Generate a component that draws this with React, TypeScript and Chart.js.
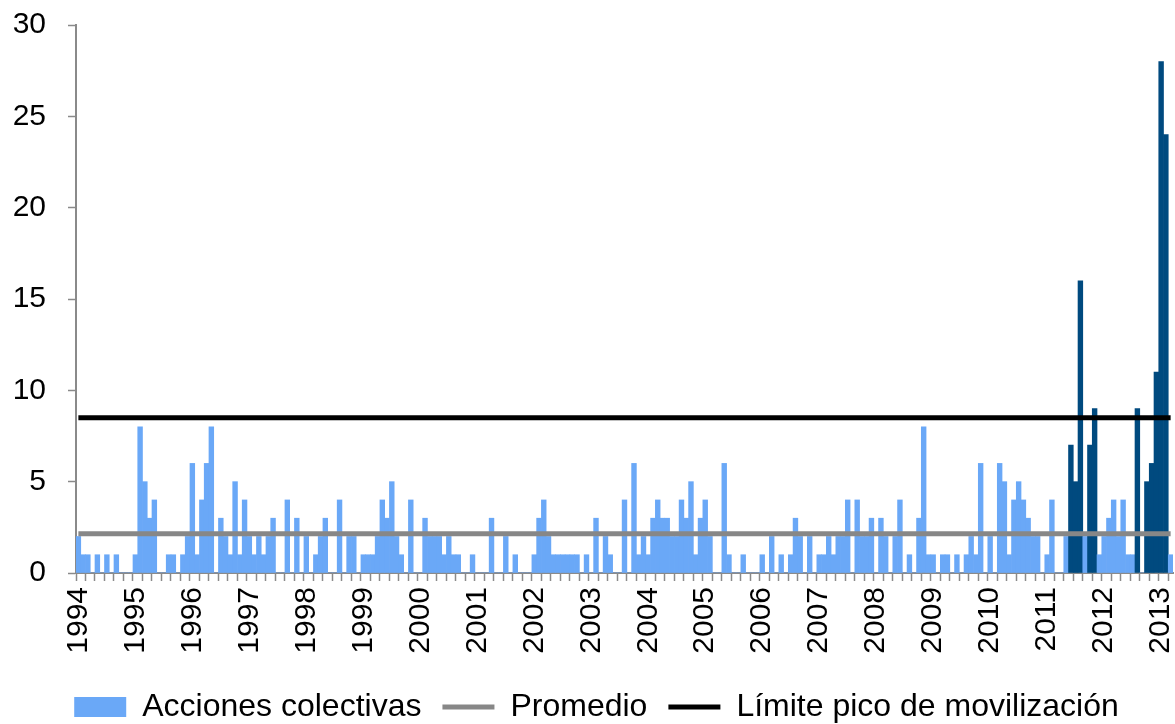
import React, { useEffect, useRef } from 'react';
import { Chart, registerables } from 'chart.js';

Chart.register(...registerables);

// ---- data ----
const anios = ['1994', '1995', '1996', '1997', '1998', '1999', '2000', '2001', '2002', '2003',
  '2004', '2005', '2006', '2007', '2008', '2009', '2010', '2011', '2012', '2013'];
const mesesPorAnio = [12, 12, 12, 12, 12, 12, 12, 12, 12, 12, 12, 12, 12, 12, 12, 12, 12, 12, 12, 3];

const acciones = [
  2, 1, 1, 0, 1, 0, 1, 0, 1, 0, 0, 0, // 1994
  1, 8, 5, 3, 4, 0, 0, 1, 1, 0, 1, 2, // 1995
  6, 1, 4, 6, 8, 0, 3, 2, 1, 5, 1, 4, // 1996
  2, 1, 2, 1, 2, 3, 0, 0, 4, 0, 3, 0, // 1997
  2, 0, 1, 2, 3, 0, 0, 4, 0, 2, 2, 0, // 1998
  1, 1, 1, 2, 4, 3, 5, 2, 1, 0, 4, 0, // 1999
  0, 3, 2, 2, 2, 1, 2, 1, 1, 0, 0, 1, // 2000
  0, 0, 0, 3, 0, 0, 2, 0, 1, 0, 0, 0, // 2001
  1, 3, 4, 2, 1, 1, 1, 1, 1, 1, 0, 1, // 2002
  0, 3, 0, 2, 1, 0, 0, 4, 0, 6, 1, 2, // 2003
  1, 3, 4, 3, 3, 2, 2, 4, 3, 5, 1, 3, // 2004
  4, 2, 0, 0, 6, 1, 0, 0, 1, 0, 0, 0, // 2005
  1, 0, 2, 0, 1, 0, 1, 3, 2, 0, 2, 0, // 2006
  1, 1, 2, 1, 2, 2, 4, 0, 4, 2, 2, 3, // 2007
  0, 3, 2, 0, 2, 4, 0, 1, 0, 3, 8, 1, // 2008
  1, 0, 1, 1, 0, 1, 0, 1, 2, 1, 6, 0, // 2009
  2, 0, 6, 5, 1, 4, 5, 4, 3, 2, 2, 0, // 2010
  1, 4, 0, 0, 2, 7, 5, 16, 2, 7, 9, 1, // 2011
  2, 3, 4, 2, 4, 1, 1, 9, 0, 5, 6, 11, // 2012
  28, 24, 1, // 2013
];

const picos = ['2011-06', '2011-07', '2011-08', '2011-10', '2011-11',
  '2012-08', '2012-10', '2012-11', '2012-12', '2013-01', '2013-02'];

const promedio = 2.15;
const limitePico = 8.5;

const nombresSeries = ['Acciones colectivas', 'Promedio', 'Límite pico de movilización'];

const yMin = 0;
const yMax = 30;
const yPaso = 5;

// categories built from the years
const categorias: string[] = [];
anios.forEach((a, k) => {
  for (let m = 1; m <= mesesPorAnio[k]; m++) {
    categorias.push(`${a}-${m < 10 ? '0' + m : m}`);
  }
});

const AZUL = '#6aa8f7';
const AZUL_OSCURO = '#004a7f';
const GRIS = '#878787';
const EJE = '#8a8a8a';
const FONT = "'Liberation Sans', Arial, sans-serif";

const desplazarLeyenda = {
  id: 'desplazarLeyenda',
  afterLayout(chart: any) {
    const lg = chart.legend;
    if (lg) {
      lg.left += 10;
      lg.right += 10;
    }
  },
};

export default function App() {
  const ref = useRef<HTMLCanvasElement | null>(null);

  useEffect(() => {
    if (!ref.current) return;
    const chart = new Chart(ref.current, {
      type: 'bar',
      data: {
        labels: categorias,
        datasets: [
          {
            type: 'bar',
            label: nombresSeries[0],
            data: acciones,
            backgroundColor: categorias.map((c) => (picos.includes(c) ? AZUL_OSCURO : AZUL)),
            borderWidth: 0,
            barPercentage: 1,
            categoryPercentage: 1,
            order: 3,
          } as any,
          {
            type: 'line',
            label: nombresSeries[1],
            data: categorias.map(() => promedio),
            borderColor: GRIS,
            backgroundColor: GRIS,
            borderWidth: 5,
            pointRadius: 0,
            pointHoverRadius: 0,
            fill: false,
            order: 2,
          } as any,
          {
            type: 'line',
            label: nombresSeries[2],
            data: categorias.map(() => limitePico),
            borderColor: '#000000',
            backgroundColor: '#000000',
            borderWidth: 5,
            pointRadius: 0,
            pointHoverRadius: 0,
            fill: false,
            order: 1,
          } as any,
        ],
      },
      plugins: [desplazarLeyenda],
      options: {
        animation: false,
        responsive: true,
        maintainAspectRatio: false,
        layout: { padding: { top: 25, left: 0, right: 2, bottom: -9 } },
        plugins: {
          tooltip: { enabled: false },
          legend: {
            position: 'bottom',
            labels: {
              font: { family: FONT, size: 32 },
              color: '#000',
              usePointStyle: true,
              pointStyleWidth: 52,
              boxWidth: 52,
              boxHeight: 20,
              padding: 21,
              generateLabels: (ch: any) =>
                ch.data.datasets.map((ds: any, i: number) => ({
                  text: ds.label,
                  fillStyle: i === 0 ? AZUL : ds.borderColor,
                  strokeStyle: i === 0 ? AZUL : ds.borderColor,
                  lineWidth: i === 0 ? 0 : 5,
                  pointStyle: i === 0 ? 'rect' : 'line',
                  hidden: false,
                  datasetIndex: i,
                  fontColor: '#000',
                })),
            },
          },
        },
        scales: {
          x: {
            type: 'category',
            offset: true,
            grid: {
              offset: true,
              drawOnChartArea: false,
              drawTicks: true,
              tickLength: 8,
              tickWidth: 1.5,
              tickColor: (ctx: any) =>
                typeof ctx.index === 'number' && ctx.index % 2 === 0 ? EJE : 'rgba(0,0,0,0)',
            },
            border: { color: EJE, width: 2 },
            ticks: {
              autoSkip: false,
              minRotation: 90,
              maxRotation: 90,
              padding: 6,
              color: '#000',
              font: { family: FONT, size: 30 },
              callback: (_v: any, i: number) => (i % 12 === 0 ? anios[i / 12] : ''),
            },
            afterFit: (s: any) => {
              s.height = 97;
              s.paddingLeft = 0;
              s.paddingRight = 0;
            },
          },
          y: {
            min: yMin,
            max: yMax,
            grid: {
              drawOnChartArea: false,
              drawTicks: true,
              tickLength: 8,
              tickWidth: 1.5,
              color: EJE,
            },
            border: { color: EJE, width: 2 },
            ticks: {
              stepSize: yPaso,
              padding: 22,
              color: '#000',
              font: { family: FONT, size: 30 },
            },
            afterFit: (s: any) => {
              s.width = 76;
              s.paddingTop = 0;
              s.paddingBottom = 0;
            },
          },
        },
      } as any,
    });
    return () => chart.destroy();
  }, []);

  return (
    <div style={{ position: 'fixed', left: 0, top: 0, width: 1175, height: 724, background: '#fff' }}>
      <canvas ref={ref} />
    </div>
  );
}
